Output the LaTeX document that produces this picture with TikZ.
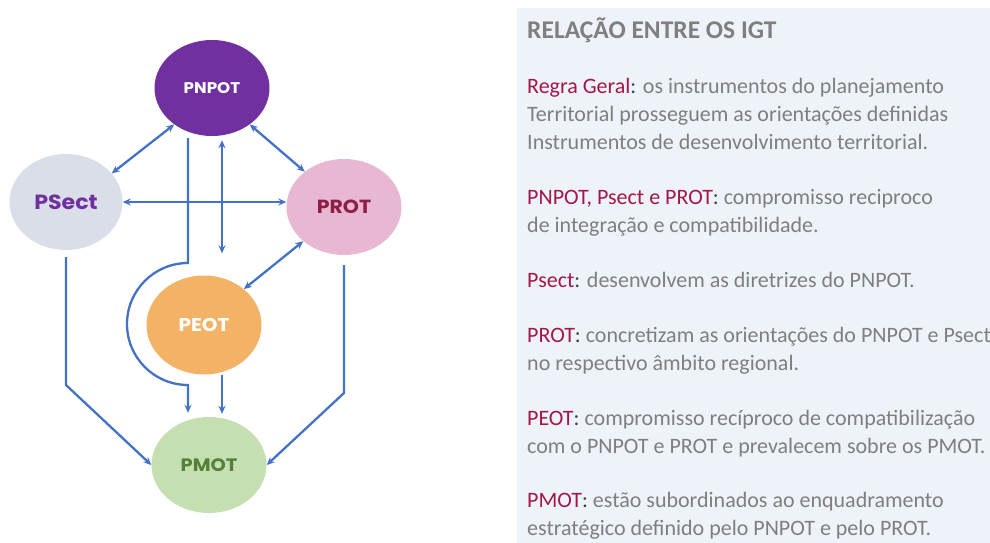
\documentclass[tikz,border=0pt]{standalone}
\usepackage{fontspec}
\setmainfont{Carlito}
\newfontfamily\nodefont{Poppins}[FakeStretch=1.08]
\usetikzlibrary{arrows.meta,shapes.geometric}
\definecolor{panelbg}{HTML}{EEF2F9}
\definecolor{txtgray}{HTML}{7F7F7F}
\definecolor{lblred}{HTML}{A3174A}
\definecolor{colondark}{HTML}{404040}
\definecolor{arrowblue}{HTML}{4472C4}
\definecolor{pnpotfill}{HTML}{7030A0}
\definecolor{psectfill}{HTML}{D9DEE8}
\definecolor{psecttxt}{HTML}{7030A0}
\definecolor{protfill}{HTML}{E8B8D3}
\definecolor{prottxt}{HTML}{8E1E45}
\definecolor{peotfill}{HTML}{F2B366}
\definecolor{pmotfill}{HTML}{C5DFB3}
\definecolor{pmottxt}{HTML}{538135}
\tikzset{
  igt/.style={ellipse, inner sep=0pt, minimum width=115pt, minimum height=96pt},
  conn/.style={draw=arrowblue, line width=2.3pt, -{Stealth[length=8pt,width=7pt]}},
  biconn/.style={draw=arrowblue, line width=2.3pt, {Stealth[length=8pt,width=7pt]}-{Stealth[length=8pt,width=7pt]}},
  body/.style={anchor=base west, inner sep=0pt, font=\fontsize{22}{26}\selectfont, text=txtgray},
  title/.style={anchor=base west, inner sep=0pt, font=\fontsize{25.5}{30}\selectfont\bfseries, text=txtgray}
}
\newcommand{\lbl}[1]{\textcolor{lblred}{#1}\textcolor{colondark}{:}}
\begin{document}
\begin{tikzpicture}[x=1pt,y=-1pt]
\useasboundingbox (0,0) rectangle (990,543);
\fill[white] (0,0) rectangle (990,543);
\fill[panelbg] (517,8) rectangle (990,543);

% nodes
\node[igt, fill=pnpotfill, text=white, font=\nodefont\bfseries\fontsize{15.5}{18}\selectfont] (pnpot) at (212,88) {PNPOT};
\node[igt, fill=psectfill, text=psecttxt, minimum width=113pt, font=\nodefont\bfseries\fontsize{20.5}{24}\selectfont] (psect) at (66,202) {PSect};
\node[igt, fill=protfill, text=prottxt, font=\nodefont\bfseries\fontsize{19}{22}\selectfont] (prot) at (344,207) {PROT};
\node[igt, fill=peotfill, text=white, minimum height=99pt, font=\nodefont\bfseries\fontsize{18.5}{22}\selectfont] (peot) at (204,325) {PEOT};
\node[igt, fill=pmotfill, text=pmottxt, font=\nodefont\bfseries\fontsize{18}{22}\selectfont] (pmot) at (209,465) {PMOT};

% connectors
\draw[biconn] (pnpot.224) -- (psect.32);
\draw[biconn] (pnpot.316) -- (prot.138);
\draw[biconn] (psect.east) -- (psect.east -| prot.west);
\draw[biconn] ([xshift=10pt,yshift=-4pt]pnpot.south) -- ([xshift=18pt,yshift=22pt]peot.north);
\draw[biconn] (prot.220) -- (peot.42);

\coordinate (curvetop) at (188,263);
\draw[conn] ([xshift=-24pt,yshift=-2pt]pnpot.south) -- (curvetop)
  arc[start angle=90, end angle=270, radius=61pt] -- ([xshift=-21pt,yshift=4pt]pmot.north);
\draw[conn] ([xshift=18pt]peot.south) -- ([xshift=13pt,yshift=3pt]pmot.north);

\coordinate (leftbend) at (66,385);
\coordinate (rightbend) at (344,393);
\draw[conn] ([yshift=-7pt]psect.south) -- (leftbend) -- (pmot.west);
\draw[conn] ([yshift=-10pt]prot.south) -- (rightbend) -- (pmot.east);

% text panel
\node[title] (ttl) at (527,38) {RELAÇÃO ENTRE OS IGT};
\node[body] (r1) at (527,93) {\lbl{Regra Geral} os instrumentos do planejamento};
\node[body] (r2) at (527,121) {Territorial prosseguem as orientações definidas};
\node[body] (r3) at (527,149) {Instrumentos de desenvolvimento territorial.};
\node[body] (p1) at (527,204) {\lbl{PNPOT, Psect e PROT} compromisso reciproco};
\node[body] (p2) at (527,232) {de integração e compatibilidade.};
\node[body] (s1) at (527,287) {\lbl{Psect} desenvolvem as diretrizes do PNPOT.};
\node[body] (o1) at (527,342) {\lbl{PROT} concretizam as orientações do PNPOT e Psect};
\node[body] (o2) at (527,370) {no respectivo âmbito regional.};
\node[body] (e1) at (527,425) {\lbl{PEOT} compromisso recíproco de compatibilização};
\node[body] (e2) at (527,453) {com o PNPOT e PROT e prevalecem sobre os PMOT.};
\node[body] (m1) at (527,507) {\lbl{PMOT} estão subordinados ao enquadramento};
\node[body] (m2) at (527,535) {estratégico definido pelo PNPOT e pelo PROT.};
\end{tikzpicture}
\end{document}
